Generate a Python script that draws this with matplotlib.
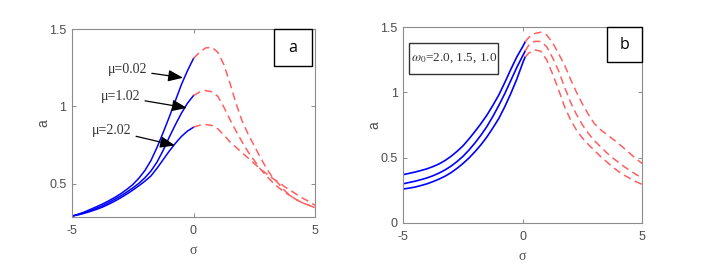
"""
Frequency response curves a(sigma) - two panels
(a) effect of damping mu, (b) effect of natural frequency omega_0
"""

import matplotlib.pyplot as plt
from matplotlib.patches import Rectangle

# ============================================================================
# DATA
# ============================================================================
# Panel a: stable (solid blue) branch, sigma from -5 to 0
SIGMA_A_BLUE = [-5, -4.75, -4.5, -4.25, -4, -3.75, -3.5, -3.25, -3, -2.75, -2.5,
                -2.25, -2, -1.75, -1.5, -1.25, -1, -0.75, -0.5, -0.25, 0]
A_MU002_BLUE = [0.29, 0.302, 0.316, 0.333, 0.35, 0.368, 0.388, 0.41, 0.434, 0.462, 0.494,
                0.535, 0.585, 0.65, 0.735, 0.83, 0.93, 1.035, 1.14, 1.23, 1.31]
A_MU102_BLUE = [0.29, 0.30, 0.312, 0.325, 0.34, 0.357, 0.377, 0.398, 0.42, 0.445, 0.472,
                0.502, 0.538, 0.582, 0.64, 0.715, 0.80, 0.88, 0.955, 1.02, 1.07]
A_MU202_BLUE = [0.29, 0.298, 0.308, 0.32, 0.333, 0.348, 0.366, 0.386, 0.408, 0.432, 0.458,
                0.486, 0.516, 0.55, 0.60, 0.655, 0.71, 0.76, 0.805, 0.84, 0.865]

# Panel a: dashed red branch, sigma from 0 to 5
SIGMA_A_RED = [0, 0.25, 0.5, 0.75, 1.0, 1.25, 1.5, 1.75, 2, 2.25, 2.5,
               2.75, 3, 3.25, 3.5, 3.75, 4, 4.25, 4.5, 4.75, 5]
A_MU002_RED = [1.31, 1.35, 1.378, 1.383, 1.35, 1.27, 1.15, 1.02, 0.905, 0.82, 0.745,
               0.67, 0.60, 0.54, 0.50, 0.455, 0.42, 0.395, 0.375, 0.36, 0.345]
A_MU102_RED = [1.07, 1.092, 1.102, 1.095, 1.065, 0.995, 0.915, 0.84, 0.77, 0.705, 0.65,
               0.595, 0.55, 0.51, 0.475, 0.445, 0.42, 0.395, 0.375, 0.36, 0.345]
A_MU202_RED = [0.865, 0.878, 0.882, 0.877, 0.855, 0.815, 0.77, 0.735, 0.70, 0.665, 0.63,
               0.595, 0.565, 0.535, 0.51, 0.48, 0.455, 0.43, 0.405, 0.385, 0.36]

MU_LABELS = ['\u03bc=0.02', '\u03bc=1.02', '\u03bc=2.02']

# Panel b: solid blue branch (omega_0 = 2.0, 1.5, 1.0)
SIGMA_B_BLUE = [-5, -4.75, -4.5, -4.25, -4, -3.75, -3.5, -3.25, -3, -2.75, -2.5,
                -2.25, -2, -1.75, -1.5, -1.25, -1, -0.75, -0.5, -0.25, 0, 0.1]
A_W20_BLUE = [0.37, 0.38, 0.39, 0.402, 0.415, 0.432, 0.452, 0.478, 0.51, 0.548, 0.59,
              0.643, 0.70, 0.76, 0.825, 0.90, 0.98, 1.075, 1.175, 1.27, 1.35, 1.385]
A_W15_BLUE = [0.30, 0.31, 0.32, 0.332, 0.345, 0.362, 0.382, 0.406, 0.435, 0.47, 0.51,
              0.558, 0.612, 0.672, 0.738, 0.815, 0.90, 0.99, 1.09, 1.19, 1.28, 1.315]
A_W10_BLUE = [0.26, 0.267, 0.275, 0.287, 0.30, 0.317, 0.336, 0.358, 0.385, 0.418, 0.455,
              0.497, 0.545, 0.598, 0.658, 0.727, 0.80, 0.89, 0.99, 1.10, 1.225, 1.27]

# Panel b: dashed red branch
SIGMA_B_RED = [0.1, 0.25, 0.5, 0.75, 1.0, 1.25, 1.5, 1.75, 2, 2.25, 2.5,
               2.75, 3, 3.25, 3.5, 3.75, 4, 4.25, 4.5, 4.75, 5]
A_W20_RED = [1.385, 1.42, 1.45, 1.46, 1.44, 1.38, 1.295, 1.21, 1.10, 1.0, 0.91,
             0.83, 0.76, 0.715, 0.68, 0.645, 0.61, 0.57, 0.53, 0.49, 0.455]
A_W15_RED = [1.315, 1.36, 1.39, 1.39, 1.35, 1.265, 1.165, 1.04, 0.925, 0.83, 0.75,
             0.685, 0.63, 0.585, 0.54, 0.50, 0.465, 0.43, 0.40, 0.37, 0.345]
A_W10_RED = [1.27, 1.30, 1.325, 1.315, 1.25, 1.14, 1.02, 0.89, 0.79, 0.71, 0.65,
             0.60, 0.555, 0.51, 0.47, 0.43, 0.395, 0.365, 0.34, 0.315, 0.295]

# Styles
BLUE = '#0000ff'
RED = '#ff5f5f'
TICK_COLOR = '#4d4d4d'
SANS = 'Liberation Sans'
SERIF = 'Liberation Serif'


def style_axes(ax, ylim, yticks, yticklabels):
    """MATLAB-like axes: inward ticks on all sides, gray frame"""
    ax.set_xlim(-5, 5)
    ax.set_ylim(*ylim)
    ax.set_xticks([-5, 0, 5])
    ax.set_xticklabels(['-5', '0', '5'])
    ax.set_yticks(yticks)
    ax.set_yticklabels(yticklabels)
    ax.tick_params(direction='in', top=True, right=True, length=3, width=0.6,
                   colors='#777777', labelcolor=TICK_COLOR, labelsize=9)
    ax.tick_params(axis='x', pad=6)
    ax.tick_params(axis='y', pad=4)
    for lab in ax.get_xticklabels() + ax.get_yticklabels():
        lab.set_family(SANS)
    for sp in ax.spines.values():
        sp.set_color('#8c8c8c')
        sp.set_linewidth(0.8)
    ax.set_xlabel('\u03c3', fontsize=10, color=TICK_COLOR, family=SERIF, labelpad=5)
    ax.set_ylabel('a', fontsize=10, color=TICK_COLOR, family=SANS, labelpad=-1)


def corner_box(ax, x0, y0, w, h, label):
    """White box with black border holding the panel letter"""
    ax.add_patch(Rectangle((x0, y0), w, h, transform=ax.transAxes,
                           facecolor='white', edgecolor='black', linewidth=1.0,
                           zorder=5, clip_on=False))
    ax.text(x0 + w / 2, y0 + h / 2, label, transform=ax.transAxes,
            ha='center', va='center', fontsize=11.5, family='Open Sans', zorder=6)


# ============================================================================
# FIGURE
# ============================================================================
fig = plt.figure(figsize=(7.2, 2.77), dpi=100)
ax_a = fig.add_axes([0.100, 0.217, 0.3375, 0.678])
ax_b = fig.add_axes([0.560, 0.195, 0.332, 0.7075])

# ---- Panel a ----
for ys in (A_MU002_BLUE, A_MU102_BLUE, A_MU202_BLUE):
    ax_a.plot(SIGMA_A_BLUE, ys, color=BLUE, linewidth=1.1)
for ys in (A_MU002_RED, A_MU102_RED, A_MU202_RED):
    ax_a.plot(SIGMA_A_RED, ys, color=RED, linewidth=1.1, dashes=(5, 3))

style_axes(ax_a, (0.285, 1.5), [0.5, 1, 1.5], ['0.5', '1', '1.5'])

# arrows pointing at the solid branches
text_pos = [(-2.70, 1.236), (-2.98, 1.062), (-3.35, 0.843)]
tips = [(-0.43, 1.185), (-0.27, 0.99), (-0.76, 0.747)]
for label, tp, tip in zip(MU_LABELS, text_pos, tips):
    ax_a.annotate(label, xy=tip, xytext=tp, ha='center', va='center',
                  fontsize=10, family=SERIF, color='#333333',
                  arrowprops=dict(arrowstyle='-|>,head_length=0.9,head_width=0.35',
                                  color='black', lw=0.9, shrinkA=1, shrinkB=0))

corner_box(ax_a, 0.831, 0.803, 0.157, 0.197, 'a')

# ---- Panel b ----
for ys in (A_W20_BLUE, A_W15_BLUE, A_W10_BLUE):
    ax_b.plot(SIGMA_B_BLUE, ys, color=BLUE, linewidth=1.2)
for ys in (A_W20_RED, A_W15_RED, A_W10_RED):
    ax_b.plot(SIGMA_B_RED, ys, color=RED, linewidth=1.1, dashes=(5, 3))

style_axes(ax_b, (0, 1.5), [0, 0.5, 1, 1.5], ['0', '0.5', '1', '1.5'])

# omega_0 legend box
ax_b.add_patch(Rectangle((0.025, 0.76), 0.372, 0.158, transform=ax_b.transAxes,
                         facecolor='white', edgecolor='#333333', linewidth=1.0,
                         zorder=5))
ax_b.text(0.211, 0.839, r'$\omega_0$=2.0, 1.5, 1.0', transform=ax_b.transAxes,
          ha='center', va='center', fontsize=9.5, family=SERIF, color='#333333',
          math_fontfamily='stix', zorder=6)

corner_box(ax_b, 0.854, 0.821, 0.146, 0.179, 'b')

plt.savefig('out.png', dpi=100)
